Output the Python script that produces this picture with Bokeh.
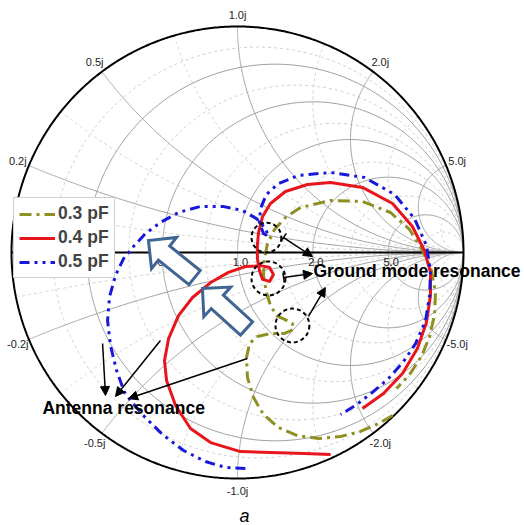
import numpy as np
from bokeh.plotting import figure
from bokeh.models import Arrow, NormalHead, TeeHead
from bokeh.core.properties import value
from bokeh.embed import file_html
from bokeh.resources import INLINE

# ---------------------------------------------------------------------------
# Smith chart grid values and tick labels
# ---------------------------------------------------------------------------
R_MAJOR = [0.2, 0.5, 1.0, 2.0, 5.0]
X_MAJOR = [0.2, 0.5, 1.0, 2.0, 5.0]
R_MINOR = [0.1, 0.35, 0.75, 1.5, 3.0, 10.0]
X_MINOR = [0.1, 0.35, 0.75, 1.5, 3.0, 10.0]
R_LABELS = [0.5, 1.0, 2.0, 5.0]
X_LABELS = [0.2, 0.5, 1.0, 2.0, 5.0, -0.2, -0.5, -1.0, -2.0, -5.0]

# ---------------------------------------------------------------------------
# Measured reflection coefficient (real / imaginary part) per capacitance
# ---------------------------------------------------------------------------
c03_re = [0.686, 0.624, 0.544, 0.456, 0.358, 0.265, 0.181, 0.115, 0.071, 0.044,
          0.040, 0.053, 0.088, 0.146, 0.208, 0.248, 0.243, 0.208, 0.173, 0.146,
          0.128, 0.115, 0.119, 0.133, 0.164, 0.212, 0.279, 0.412, 0.553, 0.677,
          0.761, 0.819, 0.858, 0.876, 0.872, 0.850, 0.814, 0.761, 0.704]
c03_im = [-0.721, -0.757, -0.792, -0.814, -0.823, -0.810, -0.774, -0.717, -0.642, -0.553,
          -0.465, -0.403, -0.372, -0.358, -0.358, -0.341, -0.314, -0.296, -0.279, -0.235,
          -0.177, -0.102, -0.027, 0.040, 0.102, 0.155, 0.199, 0.230, 0.226, 0.177,
          0.102, 0.009, -0.080, -0.177, -0.274, -0.372, -0.460, -0.540, -0.602]

c04_re = [0.412, 0.296, 0.146, 0.013, -0.119, -0.208, -0.274, -0.314, -0.323, -0.305,
          -0.261, -0.199, -0.119, -0.040, 0.035, 0.102, 0.142, 0.159, 0.142, 0.111,
          0.097, 0.088, 0.088, 0.093, 0.111, 0.146, 0.212, 0.310, 0.412, 0.553,
          0.686, 0.774, 0.827, 0.854, 0.854, 0.836, 0.796, 0.730, 0.646, 0.553]
c04_im = [-0.894, -0.889, -0.885, -0.881, -0.841, -0.779, -0.677, -0.566, -0.478, -0.381,
          -0.279, -0.199, -0.133, -0.088, -0.062, -0.058, -0.066, -0.097, -0.128, -0.119,
          -0.080, -0.027, 0.031, 0.088, 0.159, 0.217, 0.270, 0.301, 0.310, 0.288,
          0.217, 0.115, 0.009, -0.088, -0.190, -0.310, -0.425, -0.535, -0.624, -0.690]

c05_re = [0.035, -0.053, -0.142, -0.239, -0.332, -0.412, -0.473, -0.500, -0.535, -0.562,
          -0.575, -0.566, -0.540, -0.504, -0.460, -0.407, -0.341, -0.261, -0.164, -0.066,
          0.022, 0.084, 0.124, 0.137, 0.115, 0.097, 0.102, 0.128, 0.181, 0.270,
          0.412, 0.562, 0.695, 0.783, 0.836, 0.854, 0.850, 0.832, 0.788, 0.735,
          0.668, 0.597, 0.527, 0.456]
c05_im = [-0.956, -0.951, -0.925, -0.876, -0.805, -0.726, -0.655, -0.619, -0.522, -0.412,
          -0.301, -0.195, -0.102, -0.027, 0.027, 0.084, 0.133, 0.177, 0.204, 0.204,
          0.186, 0.150, 0.106, 0.071, 0.084, 0.133, 0.195, 0.257, 0.305, 0.341,
          0.354, 0.332, 0.257, 0.150, 0.031, -0.080, -0.190, -0.301, -0.403, -0.482,
          -0.558, -0.619, -0.673, -0.717]

# highlighted ground-mode regions (centre re, centre im, radius)
ring_re = [0.128, 0.137, 0.243]
ring_im = [0.066, -0.115, -0.323]
ring_r = [0.066, 0.075, 0.075]

# pointer arrows: start -> end (head at the end)
ant_x0 = [-0.597, -0.341, 0.044]
ant_y0 = [-0.403, -0.389, -0.469]
ant_x1 = [-0.584, -0.540, -0.482]
ant_y1 = [-0.633, -0.637, -0.646]
gnd_x0 = [0.204, 0.204, 0.314]
gnd_y0 = [0.066, -0.111, -0.283]
gnd_x1 = [0.332, 0.332, 0.389]
gnd_y1 = [-0.018, -0.093, -0.155]

# outlined block arrows: tip and tail centre
blk_tip_x = [-0.394, -0.155]
blk_tip_y = [0.053, -0.159]
blk_tail_x = [-0.190, 0.040]
blk_tail_y = [-0.111, -0.336]

# ---------------------------------------------------------------------------
W, H = 524, 525
CX, CY, RPX = 237, 252, 226          # chart centre and radius in pixels
PX = 1.0 / RPX                        # one pixel in chart units

p = figure(width=W, height=H, output_backend="svg", toolbar_location=None,
           x_range=(-CX * PX, (W - CX) * PX), y_range=(-(H - CY) * PX, CY * PX),
           min_border=0, background_fill_color="white", border_fill_color="white")
p.axis.visible = False
p.grid.visible = False
p.outline_line_color = None


def gamma(z):
    return (z - 1) / (z + 1)


sweep = np.concatenate([-np.logspace(4, -3, 500), [0.0], np.logspace(-3, 4, 500)])
rsweep = np.concatenate([[0.0], np.logspace(-3, 4, 700)])


def r_circles(vals):
    xs, ys = [], []
    for r in vals:
        g = gamma(r + 1j * sweep)
        xs.append(g.real)
        ys.append(g.imag)
    return xs, ys


def x_arcs(vals):
    xs, ys = [], []
    for x in vals:
        for sgn in (1, -1):
            g = gamma(rsweep + 1j * sgn * x)
            xs.append(g.real)
            ys.append(g.imag)
    return xs, ys


# minor grid
mx1, my1 = r_circles(R_MINOR)
mx2, my2 = x_arcs(X_MINOR)
p.multi_line(mx1 + mx2, my1 + my2, line_color="#cfcfcf", line_width=1, line_dash="3 3")
# major grid
gx1, gy1 = r_circles(R_MAJOR)
gx2, gy2 = x_arcs(X_MAJOR)
p.multi_line(gx1 + gx2, gy1 + gy2, line_color="#a0a0a0", line_width=1)

# outer boundary and real axis
th = np.linspace(0, 2 * np.pi, 720)
p.line(np.cos(th), np.sin(th), line_color="black", line_width=2)
p.line([-1, 1], [0, 0], line_color="black", line_width=2)

# grid labels
lab_font = value("Liberation Sans")
xr = np.array(X_LABELS)
gl = gamma(1j * xr) * (1 + 12 * PX)
p.text(gl.real, gl.imag, text=[f"{v:.1f}j" for v in X_LABELS], text_font=lab_font,
       text_font_size="11px", text_color="#222222", text_align="center",
       text_baseline="middle")
rr = np.array(R_LABELS)
p.text((rr - 1) / (rr + 1) + 3 * PX, np.full(len(rr), -9 * PX),
       text=[f"{v:.1f}" for v in R_LABELS], text_font=lab_font, text_font_size="11px",
       text_color="#222222", text_align="center", text_baseline="middle")

# measured curves
p.line(c03_re, c03_im, line_color="#8f8f22", line_width=3, line_dash="12 5 3 5",
       line_join="round", legend_label="0.3 pF")
p.line(c04_re, c04_im, line_color="#e8161c", line_width=3, line_join="round",
       legend_label="0.4 pF")
p.line(c05_re, c05_im, line_color="#1818dc", line_width=3, line_dash="10 5 3 5 3 5",
       line_join="round", legend_label="0.5 pF")

# ground-mode rings
p.circle(ring_re, ring_im, radius=ring_r, fill_color=None, line_color="black",
         line_width=2, line_dash="4 3")

# pointer arrows
for i in range(3):
    p.add_layout(Arrow(end=NormalHead(size=9, fill_color="black", line_color="black"),
                       x_start=ant_x0[i], y_start=ant_y0[i],
                       x_end=ant_x1[i], y_end=ant_y1[i], line_width=1.5))
for i in range(3):
    start = TeeHead(size=10, line_width=1.5) if i < 2 else None
    p.add_layout(Arrow(end=NormalHead(size=9, fill_color="black", line_color="black"),
                       start=start, x_start=gnd_x0[i], y_start=gnd_y0[i],
                       x_end=gnd_x1[i], y_end=gnd_y1[i], line_width=1.5))


# outlined block arrows
def block_arrow(tx, ty, bx, by, head_len=20 * PX, head_half=20 * PX, shaft_half=9 * PX):
    d = np.array([tx - bx, ty - by])
    L = np.hypot(*d)
    u = d / L
    n = np.array([-u[1], u[0]])
    tip = np.array([tx, ty])
    base = tip - u * head_len
    tail = np.array([bx, by])
    pts = [tip, base + n * head_half, base + n * shaft_half, tail + n * shaft_half,
           tail - n * shaft_half, base - n * shaft_half, base - n * head_half]
    return [q[0] for q in pts], [q[1] for q in pts]


bxs, bys = [], []
for i in range(len(blk_tip_x)):
    a, b = block_arrow(blk_tip_x[i], blk_tip_y[i], blk_tail_x[i], blk_tail_y[i])
    bxs.append(a)
    bys.append(b)
p.patches(bxs, bys, fill_color="white", line_color="#3f6592", line_width=3,
          line_join="miter")

# annotation texts
bold_font = value("Liberation Sans")
p.text([0.336], [-0.080], text=["Ground mode resonance"], text_font=bold_font,
       text_font_style="bold", text_font_size="17.5px", text_color="black",
       text_align="left", text_baseline="middle")
p.text([-0.863], [-0.690], text=["Antenna resonance"], text_font=bold_font,
       text_font_style="bold", text_font_size="17.5px", text_color="black",
       text_align="left", text_baseline="middle")
p.text([0.031], [-1.164], text=["a"], text_font=bold_font, text_font_style="italic",
       text_font_size="18px", text_color="black", text_align="center",
       text_baseline="middle")

# legend
lg = p.legend[0]
lg.location = (13, 247)
lg.label_text_font = "Liberation Sans"
lg.label_text_font_style = "bold"
lg.label_text_font_size = "17.5px"
lg.glyph_width = 36
lg.glyph_height = 18
lg.label_height = 18
lg.label_standoff = 3
lg.spacing = 3
lg.padding = 5
lg.margin = 0
lg.border_line_color = "#a0a0a0"
lg.border_line_width = 1.5
lg.background_fill_color = "white"
lg.background_fill_alpha = 1.0

open("out.html", "w").write(file_html(p, INLINE))
